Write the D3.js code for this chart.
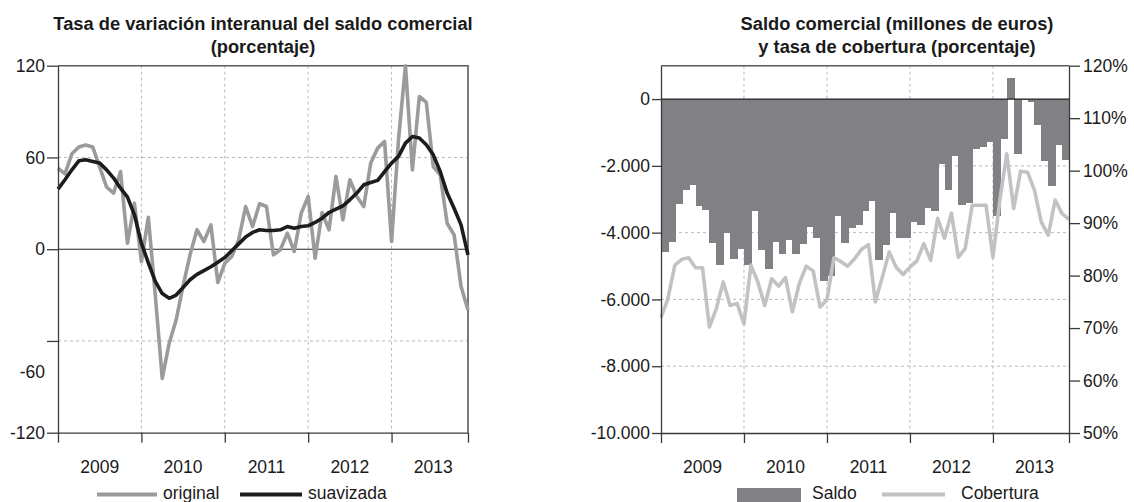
<!DOCTYPE html>
<html>
<head>
<meta charset="utf-8">
<script src="https://cdn.jsdelivr.net/npm/d3@7"></script>
<style>
body { margin: 0; background: #fff; }
svg text { font-family: 'Liberation Sans', Arial, sans-serif; font-size: 17.5px; fill: #1a1a1a; }
.grid { stroke: #b8b8b8; stroke-width: 1; stroke-dasharray: 3,3; }
</style>
</head>
<body>
<div id="container"></div>
<script>
// Monthly data, Jan 2009 - Dec 2013
var years = ['2009', '2010', '2011', '2012', '2013'];

// Tasa de variación interanual (%)
var original = [53.0, 49.3, 62.4, 66.8, 68.1, 66.8, 53.7, 40.6, 36.7, 50.8,
  3.9, 30.1, -8.1, 20.9, -30, -84.5, -61.5, -46.3, -24, -3.7,
  12.7, 5.0, 15.9, -21.8, -9.2, -4.8, 6.1, 27.9, 14.8, 29.7,
  27.9, -3.7, -0.4, 10.5, -1.5, 23.6, 34.5, -5.9, 24.0, 12.7,
  47.6, 19.2, 45.4, 34.5, 27.9, 56.3, 66.1, 70.5, 5.0, 71.6,
  120, 51.9, 99.9, 96.0, 54.1, 48.7, 17.0, 9.4, -24.4, -39.7];

var suavizada = [39.3, 45.4, 51.9, 57.8, 58.5, 57.4, 56.3, 51.9, 46.5, 39.9,
  34.0, 22.5, 4, -9, -21, -29, -32.1, -30, -25, -20,
  -16.5, -14, -11.5, -8.5, -5.5, -1, 3.5, 8, 11, 12.7,
  12.2, 12.2, 12.7, 14.8, 13.7, 14.8, 15.3, 17.5, 20.3, 24.0,
  26.2, 28.4, 32.3, 36.7, 42.1, 43.6, 45.0, 50.8, 56.3, 60.7,
  69.4, 73.7, 72.7, 68.3, 61.7, 50.8, 36.7, 26.8, 15.9, -3.7];

// Saldo comercial (millones de euros); the last month falls outside the plot
var saldo = [-4570, -4280, -3140, -2720, -2580, -3190, -3320, -4320, -4960, -4010,
  -4780, -4490, -4960, -3350, -4520, -5080, -4280, -4650, -4220, -4650,
  -4350, -3820, -4150, -5440, -5300, -3500, -4300, -3850, -3770, -3350,
  -3050, -4820, -4370, -3420, -4150, -4150, -3690, -3760, -3270, -3340,
  -1940, -2710, -1700, -3160, -3120, -1490, -1440, -1280, -3490, -1190,
  640, -1640, -40, -100, -770, -1840, -2590, -1370, -1820];

// Tasa de cobertura (%)
var cobertura = [72.0, 75.6, 82.0, 83.1, 83.4, 81.5, 81.5, 70.2, 73.7, 78.8,
  74.3, 74.7, 70.8, 82.0, 78.8, 74.3, 79.4, 78.0, 79.6, 73.1,
  78.5, 81.8, 80.9, 74.0, 75.4, 83.4, 82.7, 81.8, 83.2, 85.0,
  85.9, 75.0, 79.7, 84.5, 81.6, 80.2, 81.6, 82.8, 86.1, 82.9,
  90.9, 87.1, 91.9, 83.5, 85.2, 93.4, 93.4, 93.4, 83.5, 94.4,
  103.2, 92.8, 99.9, 99.7, 96.3, 90.2, 87.7, 94.4, 91.8, 90.7];

var yearTicks = [0, 12, 24, 36, 48, 59];
var leftTicks = [-120, -60, 0, 60, 120];
var saldoTicks = [-10000, -8000, -6000, -4000, -2000, 0];
var coberturaTicks = [50, 60, 70, 80, 90, 100, 110, 120];

var width = 1134,
height = 502;

var svg = d3.select('#container').append('svg').attr('width', width).attr('height', height);

var es = d3.formatLocale({ decimal: ',', thousands: '.', grouping: [3], currency: ['', ' €'], minus: '-' });
var fmtMiles = es.format(',');

function styleAxis(g) {
  g.attr('font-size', null).attr('font-family', null);
  g.selectAll('path, line').attr('stroke', '#3a3a3a').attr('stroke-width', 1.3);
}

// ---------- Left panel ----------
var xL = d3.scaleLinear().domain([0, 59]).range([58, 468]);
var yL = d3.scaleLinear().domain([-120, 120]).range([432.7, 65.7]);

var left = svg.append('g');

left.append('g').selectAll('line').data(yearTicks.slice(1, -1)).join('line')
  .attr('class', 'grid')
  .attr('x1', d => xL(d)).attr('x2', d => xL(d))
  .attr('y1', yL(120)).attr('y2', yL(-120));

left.append('g').selectAll('line').data([60, -60]).join('line')
  .attr('class', 'grid')
  .attr('x1', xL(0)).attr('x2', xL(59))
  .attr('y1', d => yL(d)).attr('y2', d => yL(d));

// frame
left.append('path')
  .attr('d', 'M' + xL(0) + ',' + yL(120) + 'H' + xL(59) + 'V' + yL(-120))
  .attr('fill', 'none').attr('stroke', '#5a5a5a').attr('stroke-width', 1.6);

left.append('line')
  .attr('x1', xL(0)).attr('x2', xL(59)).attr('y1', yL(0)).attr('y2', yL(0))
  .attr('stroke', '#222').attr('stroke-width', 1.1);

var lineL = d3.line().x((d, i) => xL(i)).y(d => yL(d));

left.append('path').datum(original)
  .attr('d', lineL).attr('fill', 'none')
  .attr('stroke', '#9b9b9b').attr('stroke-width', 3.6).attr('stroke-linejoin', 'round');

left.append('path').datum(suavizada)
  .attr('d', lineL).attr('fill', 'none')
  .attr('stroke', '#1c1c1c').attr('stroke-width', 3.6).attr('stroke-linejoin', 'round');

left.append('g')
  .attr('transform', 'translate(' + xL(0) + ',0)')
  .call(d3.axisLeft(yL).tickValues(leftTicks).tickSize(11).tickSizeOuter(0).tickPadding(2).tickFormat(d => String(d)))
  .call(styleAxis)
  .call(g => g.selectAll('.tick text').filter(d => d === -60).attr('y', 31));

left.append('g')
  .attr('transform', 'translate(0,' + yL(-120) + ')')
  .call(d3.axisBottom(xL).tickValues(yearTicks).tickSize(10).tickSizeOuter(0).tickFormat(''))
  .call(styleAxis);

left.append('g').selectAll('text').data(years).join('text')
  .attr('x', (d, i) => xL(i * 12 + 6)).attr('y', 473)
  .attr('text-anchor', 'middle').text(d => d);

left.append('text').attr('x', 263).attr('y', 30).attr('text-anchor', 'middle')
  .style('font-weight', 'bold').style('font-size', '18.3px')
  .text('Tasa de variación interanual del saldo comercial');
left.append('text').attr('x', 263).attr('y', 52.5).attr('text-anchor', 'middle')
  .style('font-weight', 'bold').style('font-size', '18.3px')
  .text('(porcentaje)');

// legend
var legL = left.append('g');
legL.append('line').attr('x1', 97).attr('x2', 157).attr('y1', 494.5).attr('y2', 494.5)
  .attr('stroke', '#9b9b9b').attr('stroke-width', 4);
legL.append('text').attr('x', 163).attr('y', 498.5).text('original');
legL.append('line').attr('x1', 240).attr('x2', 302).attr('y1', 494.5).attr('y2', 494.5)
  .attr('stroke', '#1c1c1c').attr('stroke-width', 4);
legL.append('text').attr('x', 308).attr('y', 498.5).text('suavizada');

// ---------- Right panel ----------
var xR = d3.scaleLinear().domain([0, 59]).range([661, 1069]);
var yR = d3.scaleLinear().domain([-10000, 1000]).range([433, 65.7]);
var yP = d3.scaleLinear().domain([50, 120]).range([433, 65.7]);

var right = svg.append('g');

right.append('g').selectAll('line').data(yearTicks.slice(1, -1)).join('line')
  .attr('class', 'grid')
  .attr('x1', d => xR(d)).attr('x2', d => xR(d))
  .attr('y1', yR(1000)).attr('y2', yR(-10000));

right.append('g').selectAll('line').data([-2000, -4000, -6000, -8000]).join('line')
  .attr('class', 'grid')
  .attr('x1', xR(0)).attr('x2', xR(59))
  .attr('y1', d => yR(d)).attr('y2', d => yR(d));

right.append('g').attr('shape-rendering', 'crispEdges')
  .selectAll('rect').data(saldo).join('rect')
  .attr('x', (d, i) => xR(i))
  .attr('width', (d, i) => Math.min(xR(i + 1) + 1, xR(59)) - xR(i))
  .attr('y', d => yR(Math.max(0, d)))
  .attr('height', d => Math.abs(yR(d) - yR(0)))
  .attr('fill', '#818185');

right.append('line')
  .attr('x1', xR(0)).attr('x2', xR(59)).attr('y1', yR(0)).attr('y2', yR(0))
  .attr('stroke', '#222').attr('stroke-width', 1.2);

right.append('path').datum(cobertura)
  .attr('d', d3.line().x((d, i) => xR(i)).y(d => yP(d)))
  .attr('fill', 'none').attr('stroke', '#c2c2c4').attr('stroke-width', 3.6).attr('stroke-linejoin', 'round');

right.append('line')
  .attr('x1', xR(0)).attr('x2', xR(59)).attr('y1', yR(1000)).attr('y2', yR(1000))
  .attr('stroke', '#5a5a5a').attr('stroke-width', 1.6);

right.append('g')
  .attr('transform', 'translate(' + xR(0) + ',0)')
  .call(d3.axisLeft(yR).tickValues(saldoTicks).tickSize(9).tickSizeOuter(0).tickPadding(2).tickFormat(fmtMiles))
  .call(styleAxis);

right.append('g')
  .attr('transform', 'translate(' + xR(59) + ',0)')
  .call(d3.axisRight(yP).tickValues(coberturaTicks).tickSize(11).tickSizeOuter(0).tickPadding(3).tickFormat(d => d + '%'))
  .call(styleAxis);

right.append('g')
  .attr('transform', 'translate(0,' + yR(-10000) + ')')
  .call(d3.axisBottom(xR).tickValues(yearTicks).tickSize(10).tickSizeOuter(0).tickFormat(''))
  .call(styleAxis);

right.append('g').selectAll('text').data(years).join('text')
  .attr('x', (d, i) => xR(i * 12 + 6)).attr('y', 473)
  .attr('text-anchor', 'middle').text(d => d);

right.append('text').attr('x', 897).attr('y', 30).attr('text-anchor', 'middle')
  .style('font-weight', 'bold').style('font-size', '18.3px')
  .text('Saldo comercial (millones de euros)');
right.append('text').attr('x', 897).attr('y', 52.5).attr('text-anchor', 'middle')
  .style('font-weight', 'bold').style('font-size', '18.3px')
  .text('y tasa de cobertura (porcentaje)');

var legR = right.append('g');
legR.append('rect').attr('x', 737).attr('y', 488).attr('width', 64).attr('height', 14)
  .attr('fill', '#818185');
legR.append('text').attr('x', 812).attr('y', 498.5).text('Saldo');
legR.append('line').attr('x1', 882).attr('x2', 945).attr('y1', 494.5).attr('y2', 494.5)
  .attr('stroke', '#c2c2c4').attr('stroke-width', 4);
legR.append('text').attr('x', 961).attr('y', 498.5).text('Cobertura');
</script>
</body>
</html>
